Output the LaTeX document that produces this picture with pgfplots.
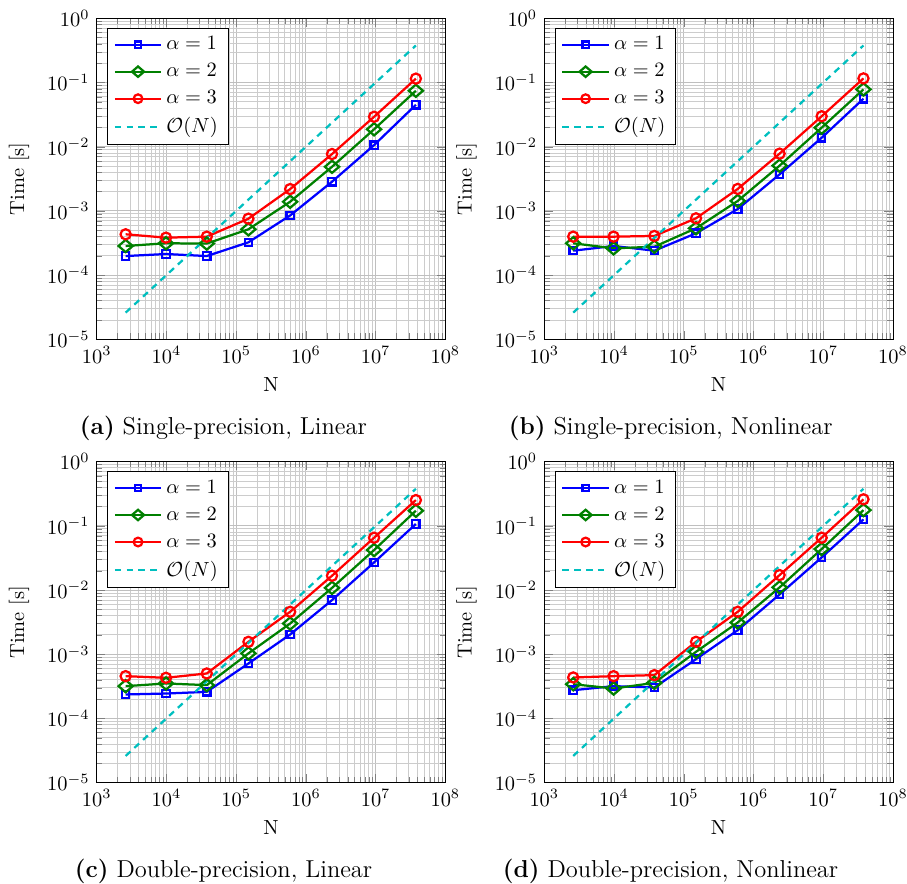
\documentclass[border=0pt]{standalone}
\usepackage{pgfplots}
\usepackage{pgfplotstable}
\pgfplotsset{compat=1.18}
\definecolor{mycyan}{RGB}{0,191,191}

\pgfplotstableread{
N      a1       a2       a3       ON
2600   1.98e-4  2.84e-4  4.32e-4  2.6e-5
9860   2.13e-4  3.13e-4  3.83e-4  9.86e-5
37900  1.98e-4  3.10e-4  3.97e-4  3.79e-4
1.5e5  3.24e-4  5.17e-4  7.56e-4  1.5e-3
5.95e5 8.5e-4   1.39e-3  2.19e-3  5.95e-3
2.37e6 2.85e-3  4.87e-3  7.69e-3  2.37e-2
9.5e6  1.06e-2  1.87e-2  2.93e-2  9.5e-2
3.78e7 4.5e-2   7.45e-2  0.115    0.378
}\tabA
\pgfplotstableread{
N      a1       a2       a3       ON
2600   2.40e-4  3.13e-4  3.97e-4  2.6e-5
9860   2.84e-4  2.61e-4  3.97e-4  9.86e-5
37900  2.40e-4  2.77e-4  4.07e-4  3.79e-4
1.5e5  4.48e-4  5.36e-4  7.67e-4  1.5e-3
5.95e5 1.07e-3  1.43e-3  2.20e-3  5.95e-3
2.37e6 3.71e-3  5.07e-3  7.80e-3  2.37e-2
9.5e6  1.38e-2  1.98e-2  2.98e-2  9.5e-2
3.78e7 5.6e-2   7.83e-2  0.116    0.378
}\tabB
\pgfplotstableread{
N      a1       a2       a3       ON
2600   2.36e-4  3.18e-4  4.55e-4  2.6e-5
9860   2.44e-4  3.50e-4  4.29e-4  9.86e-5
37900  2.59e-4  3.30e-4  5.01e-4  3.79e-4
1.5e5  7.17e-4  1.03e-3  1.56e-3  1.5e-3
5.95e5 2.03e-3  3.01e-3  4.58e-3  5.95e-3
2.37e6 6.97e-3  1.08e-2  1.67e-2  2.37e-2
9.5e6  2.69e-2  4.2e-2   6.53e-2  9.5e-2
3.78e7 0.107    0.172    0.252    0.378
}\tabC
\pgfplotstableread{
N      a1       a2       a3       ON
2600   2.75e-4  3.41e-4  4.34e-4  2.6e-5
9860   3.18e-4  2.92e-4  4.55e-4  9.86e-5
37900  3.03e-4  3.58e-4  4.72e-4  3.79e-4
1.5e5  8.38e-4  1.09e-3  1.56e-3  1.5e-3
5.95e5 2.37e-3  3.12e-3  4.58e-3  5.95e-3
2.37e6 8.54e-3  1.10e-2  1.71e-2  2.37e-2
9.5e6  3.22e-2  4.35e-2  6.53e-2  9.5e-2
3.78e7 0.126    0.176    0.259    0.378
}\tabD

\newcommand{\panel}[1]{%
  \addplot[blue, line width=1.1pt, mark=square, mark size=1.8pt, mark options={solid}] table[x=N, y=a1] {#1};
  \addlegendentry{$\alpha = 1$}
  \addplot[green!50!black, line width=1.1pt, mark=diamond, mark size=3.0pt, mark options={solid, xscale=1.55}] table[x=N, y=a2] {#1};
  \addlegendentry{$\alpha = 2$}
  \addplot[red, line width=1.1pt, mark=o, mark size=2.5pt, mark options={solid}] table[x=N, y=a3] {#1};
  \addlegendentry{$\alpha = 3$}
  \addplot[mycyan, line width=1.1pt, dash pattern=on 3.2pt off 2.6pt, mark=none] table[x=N, y=ON] {#1};
  \addlegendentry{$\mathcal{O}(N)$}
}

\begin{document}
\begin{tikzpicture}
\path[use as bounding box] (0,0) rectangle (444.6pt,-433.3pt);

\begin{axis}[at={(47.4pt,-9.0pt)}, anchor=north west,
    xmode=log, ymode=log, scale only axis, width=170.9pt, height=157.3pt,
    xmin=1e3, xmax=1e8, ymin=1e-5, ymax=1, grid=both,
    major grid style={gray!50, line width=0.4pt}, minor grid style={gray!40, line width=0.4pt},
    xlabel={N}, ylabel={Time [s]}, ylabel shift=2pt, legend pos=north west, legend cell align=left,
    legend style={draw=black, fill=white, row sep=1.3pt},
    legend image code/.code={\draw[mark repeat=2,mark phase=2, every mark/.append style={scale=0.85}] plot coordinates {(0cm,0cm) (0.4cm,0cm) (0.8cm,0cm)};}]
\panel{\tabA}
\end{axis}
\begin{axis}[at={(266.8pt,-9.0pt)}, anchor=north west,
    xmode=log, ymode=log, scale only axis, width=170.9pt, height=157.3pt,
    xmin=1e3, xmax=1e8, ymin=1e-5, ymax=1, grid=both,
    major grid style={gray!50, line width=0.4pt}, minor grid style={gray!40, line width=0.4pt},
    xlabel={N}, ylabel={Time [s]}, ylabel shift=2pt, legend pos=north west, legend cell align=left,
    legend style={draw=black, fill=white, row sep=1.3pt},
    legend image code/.code={\draw[mark repeat=2,mark phase=2, every mark/.append style={scale=0.85}] plot coordinates {(0cm,0cm) (0.4cm,0cm) (0.8cm,0cm)};}]
\panel{\tabB}
\end{axis}
\begin{axis}[at={(47.4pt,-226.3pt)}, anchor=north west,
    xmode=log, ymode=log, scale only axis, width=170.9pt, height=157.3pt,
    xmin=1e3, xmax=1e8, ymin=1e-5, ymax=1, grid=both,
    major grid style={gray!50, line width=0.4pt}, minor grid style={gray!40, line width=0.4pt},
    xlabel={N}, ylabel={Time [s]}, ylabel shift=2pt, legend pos=north west, legend cell align=left,
    legend style={draw=black, fill=white, row sep=1.3pt},
    legend image code/.code={\draw[mark repeat=2,mark phase=2, every mark/.append style={scale=0.85}] plot coordinates {(0cm,0cm) (0.4cm,0cm) (0.8cm,0cm)};}]
\panel{\tabC}
\end{axis}
\begin{axis}[at={(266.8pt,-226.3pt)}, anchor=north west,
    xmode=log, ymode=log, scale only axis, width=170.9pt, height=157.3pt,
    xmin=1e3, xmax=1e8, ymin=1e-5, ymax=1, grid=both,
    major grid style={gray!50, line width=0.4pt}, minor grid style={gray!40, line width=0.4pt},
    xlabel={N}, ylabel={Time [s]}, ylabel shift=2pt, legend pos=north west, legend cell align=left,
    legend style={draw=black, fill=white, row sep=1.3pt},
    legend image code/.code={\draw[mark repeat=2,mark phase=2, every mark/.append style={scale=0.85}] plot coordinates {(0cm,0cm) (0.4cm,0cm) (0.8cm,0cm)};}]
\panel{\tabD}
\end{axis}

\node[anchor=base, font=\large] at (109.5pt,-213pt) {\textbf{(a)} Single-precision, Linear};
\node[anchor=base, font=\large] at (328.8pt,-213pt) {\textbf{(b)} Single-precision, Nonlinear};
\node[anchor=base, font=\large] at (109.6pt,-430pt) {\textbf{(c)} Double-precision, Linear};
\node[anchor=base, font=\large] at (328.7pt,-430pt) {\textbf{(d)} Double-precision, Nonlinear};
\end{tikzpicture}
\end{document}
